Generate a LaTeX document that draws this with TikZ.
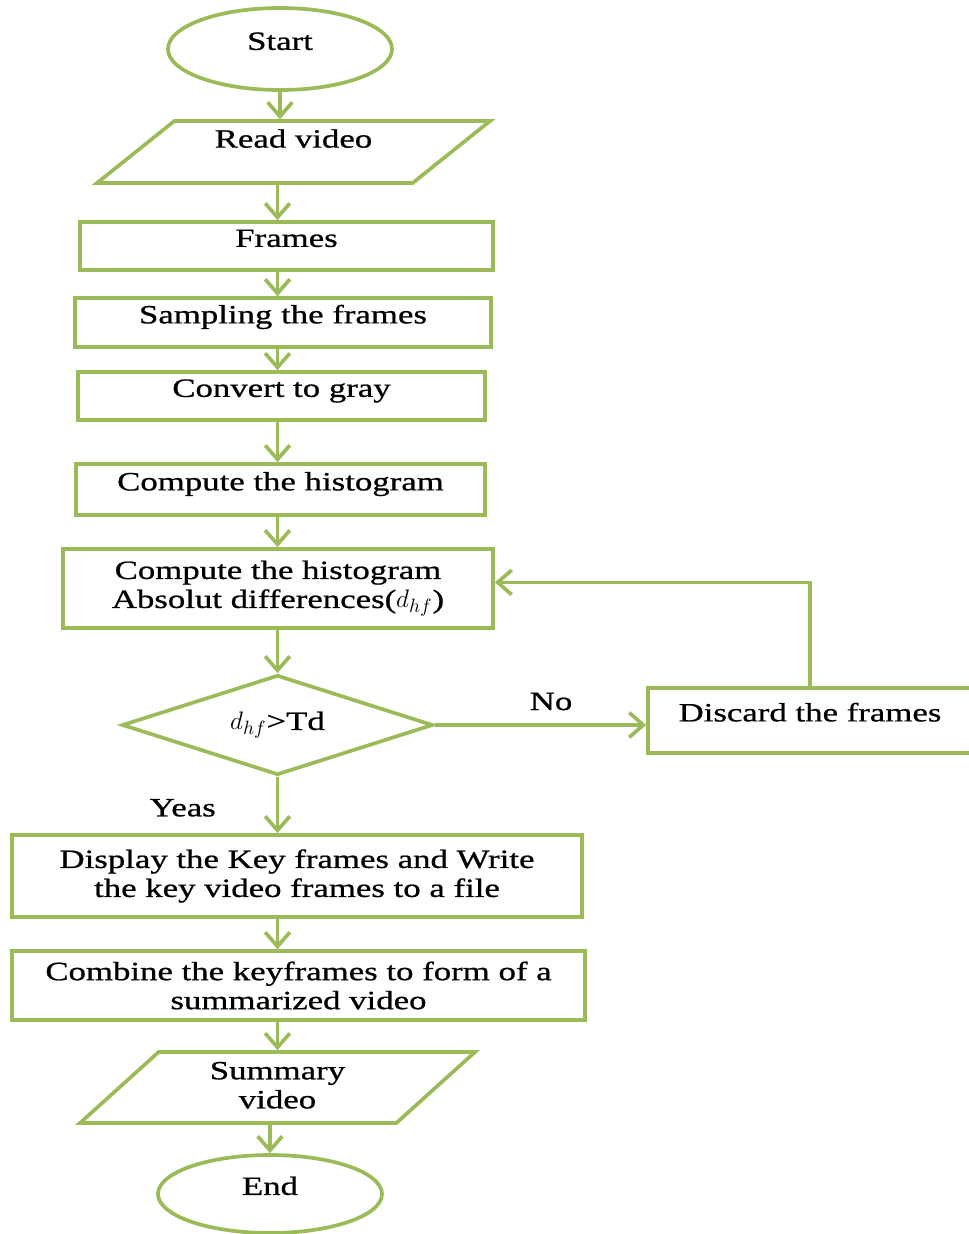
\documentclass[tikz,border=0pt]{standalone}
\usepackage{fontspec}
\setmainfont[FakeStretch=1.32,FakeBold=0.8]{Liberation Serif}
\usetikzlibrary{shapes.geometric,arrows.meta,positioning}
\definecolor{flowgreen}{HTML}{9BBB59}

\begin{document}
\begin{tikzpicture}[x=1cm,y=1cm,
  shapebox/.style={draw=flowgreen,line width=2.1pt,align=center,inner sep=2pt,
    font=\fontsize{15pt}{16.5pt}\selectfont},
  oneline/.style={text height=10pt,text depth=9pt},
  termnode/.style={shapebox,ellipse},
  ionode/.style={shapebox,trapezium,trapezium stretches body},
  procnode/.style={shapebox,rectangle},
  decnode/.style={shapebox,diamond,inner sep=0pt},
  tag/.style={font=\fontsize{15pt}{16.5pt}\selectfont},
  flowline/.style={draw=flowgreen,line width=2.1pt,
    -{Straight Barb[length=8pt,width=14pt]}}]
  % Page frame: 969 x 1234 px at 50 px per cm.
  \useasboundingbox (0,0) rectangle (19.38,-24.68);

  % Main column.
  \node[termnode,oneline,minimum width=4.48cm,minimum height=1.64cm]
    (start) at (5.60,-0.98) {Start};
  \node[ionode,text height=13pt,text depth=18pt,
    trapezium left angle=38.5,trapezium right angle=141.5,
    minimum width=7.86cm,minimum height=1.24cm]
    (read) at (5.87,-3.04) {Read video};
  \node[procnode,oneline,minimum width=8.26cm,minimum height=0.96cm]
    (frames) at (5.73,-4.92) {Frames};
  \node[procnode,oneline,minimum width=8.32cm,minimum height=0.98cm]
    (sampling) at (5.66,-6.45) {Sampling the frames};
  \node[procnode,oneline,minimum width=8.14cm,minimum height=0.96cm]
    (gray) at (5.63,-7.92) {Convert to gray};
  \node[procnode,oneline,minimum width=8.18cm,minimum height=1.02cm]
    (hist) at (5.61,-9.79) {Compute the histogram};
  \node[procnode,minimum width=8.60cm,minimum height=1.58cm]
    (diff) at (5.56,-11.77) {Compute the histogram\\Absolut differences($d_{hf}$)};
  \node[decnode,aspect=3.1,minimum width=6.22cm,minimum height=2.00cm]
    (check) at (5.55,-14.50) {$d_{hf}$>Td};
  \node[procnode,oneline,minimum width=6.48cm,minimum height=1.30cm]
    (discard) at (16.20,-14.41) {Discard the frames};
  \node[procnode,minimum width=11.40cm,minimum height=1.64cm]
    (display) at (5.94,-17.52) {Display the Key frames and Write\\the key video frames to a file};
  \node[procnode,minimum width=11.46cm,minimum height=1.38cm]
    (combine) at (5.97,-19.71) {Combine the keyframes to form of a\\summarized video};
  \node[ionode,text height=30pt,text depth=6.3pt,
    trapezium left angle=42,trapezium right angle=138,
    minimum width=7.90cm,minimum height=1.42cm]
    (summary) at (5.55,-21.75) {Summary\\video};
  \node[termnode,oneline,minimum width=4.48cm,minimum height=1.56cm]
    (stop) at (5.40,-23.88) {End};

  % Connectors down the column.
  \draw[flowline] (start) -- (start |- read.north);
  \draw[flowline] (read.south -| check) -- (frames.north -| check);
  \draw[flowline] (frames.south -| check) -- (sampling.north -| check);
  \draw[flowline] (sampling.south -| check) -- (gray.north -| check);
  \draw[flowline] (gray.south -| check) -- (hist.north -| check);
  \draw[flowline] (hist.south -| check) -- (diff.north -| check);
  \draw[flowline] (diff.south -| check) -- (check.north);
  \draw[flowline] (check.south) -- (check.south |- display.north)
    node[tag,pos=0.55,left=1.08cm] {Yeas};
  \draw[flowline] (display.south -| check) -- (combine.north -| check);
  \draw[flowline] (combine.south -| check) -- (summary.north -| check);
  \draw[flowline] (summary.south -| stop) -- (stop);

  % Rejected branch and loop back.
  \draw[flowline] (check.east) -- (check.east -| discard.west)
    node[tag,pos=0.55,above=4pt] {No};
  \draw[flowline] (discard.north) |- ([yshift=3.5pt]diff.east);
\end{tikzpicture}
\end{document}
